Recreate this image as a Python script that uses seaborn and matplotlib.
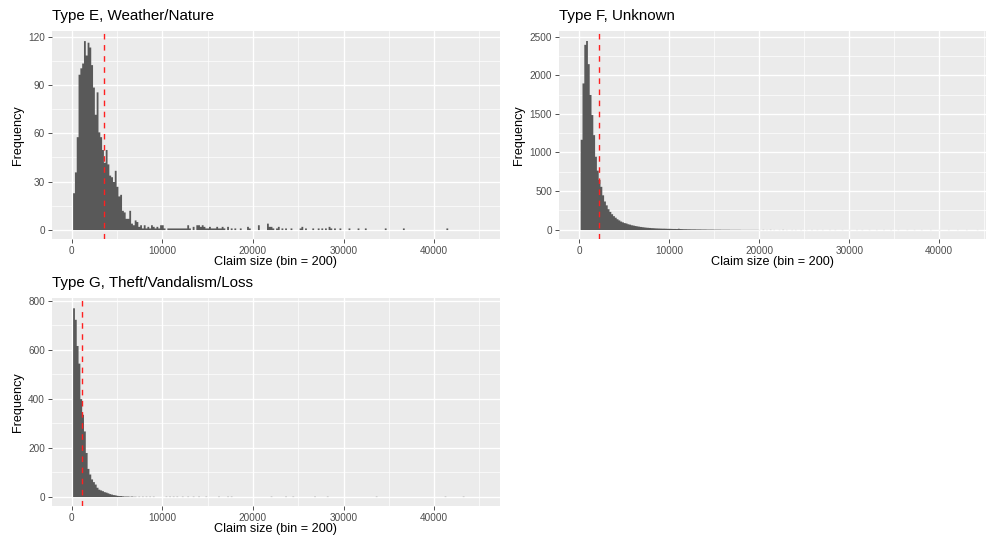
import numpy as np
import pandas as pd
import matplotlib
matplotlib.use("Agg")
import matplotlib.pyplot as plt
import seaborn as sns

# bin width used in all three histograms
BIN = 200

# Type E, Weather/Nature: counts for consecutive bins centred at 200, 400, ...
E_HEAD = [23, 36, 58, 97, 101, 104, 118, 109, 117, 114, 103, 89, 72, 86, 61,
          58, 50, 42, 50, 41, 34, 33, 30, 37, 27, 21, 22, 12, 11, 7, 7, 12, 4,
          3, 6, 5, 2, 3, 1, 3, 1, 2, 1, 3, 2, 1, 2, 1, 3]
# sparse tail of Type E (bin centre, count)
E_TAIL_X = [10000, 10200, 10600, 10800, 11000, 11200, 11400, 11600, 11800,
            12000, 12200, 12400, 12600, 12800, 13000, 13400, 13800, 14000,
            14200, 14400, 14600, 14800, 15000, 15200, 15400, 15600, 15800,
            16000, 16200, 16400, 16600, 16800, 17200, 17600, 18000, 18600,
            19400, 19600, 20600, 21600, 21800, 22000, 22200, 22600, 22800,
            23200, 23600, 24200, 25200, 25400, 25800, 26600, 27200, 27600,
            28000, 28400, 28600, 29000, 29600, 30600, 31600, 32400, 34600,
            36600, 41400]
E_TAIL_N = [3, 1, 1, 1, 1, 1, 1, 1, 1, 1, 1, 1, 1, 3, 1, 2, 3, 3, 2, 3, 2, 1,
            1, 2, 1, 1, 1, 2, 1, 1, 2, 1, 2, 1, 1, 1, 2, 1, 3, 4, 2, 2, 1, 1,
            2, 1, 1, 1, 1, 2, 1, 1, 1, 1, 1, 2, 1, 1, 1, 1, 1, 1, 1, 1, 1]
E_MEAN = 3532

# Type F, Unknown
F_HEAD = [1170, 1900, 2400, 2450, 2150, 1750, 1490, 1230, 950, 770, 650, 560,
          450, 370, 320, 270, 235, 205, 180, 160, 140, 125, 110, 100, 90, 85,
          75, 70, 62, 58, 52, 48, 44, 40, 37, 34, 31, 29, 27, 25, 24, 22, 21,
          20, 19, 18, 18, 17, 16, 16, 15, 14, 14, 13, 17, 13, 12, 11, 11, 10,
          10, 9, 9, 9, 8, 8, 8, 7, 7, 7, 6, 6, 6, 6, 5, 5, 5, 5, 4, 4, 4, 4,
          4, 3, 3, 3, 3, 3, 3, 2, 2, 2, 2, 2, 2, 2, 2, 2, 2, 1]
F_TAIL_X = [20400, 20800, 21200, 21600, 22200, 22600, 23000, 23600, 24000,
            24600, 25200, 25800, 26400, 27000, 27800, 28400, 29200, 30000,
            30800, 31400, 32200, 33000, 33800, 34600, 35400, 36400, 37200,
            38000, 39000, 40000, 41000, 42000, 43000, 44200]
F_TAIL_N = [2, 1, 2, 1, 1, 2, 1, 1, 1, 1, 1, 1, 1, 1, 1, 1, 1, 1, 1, 1, 1, 1,
            1, 1, 1, 1, 1, 1, 1, 1, 1, 1, 1, 1]
F_MEAN = 2222

# Type G, Theft/Vandalism/Loss
G_HEAD = [771, 724, 617, 545, 400, 336, 268, 180, 115, 92, 72, 61, 51, 38, 30,
          27, 24, 20, 18, 15, 12, 10, 8, 7, 5, 4, 4, 3, 2, 2, 2, 1, 2, 1, 1]
G_TAIL_X = [7400, 7800, 8200, 8600, 9000, 10400, 10800, 11200, 11600, 12200,
            12800, 13400, 14000, 14800, 16200, 17200, 17600, 22000, 23600,
            24400, 26800, 28200, 33600, 41200, 43200]
G_TAIL_N = [1] * len(G_TAIL_X)
G_MEAN = 1137

TITLES = ["Type E, Weather/Nature", "Type F, Unknown",
          "Type G, Theft/Vandalism/Loss"]
X_LABEL = "Claim size (bin = 200)"
Y_LABEL = "Frequency"
E_YTICKS = [0, 30, 60, 90, 120]
F_YTICKS = [0, 500, 1000, 1500, 2000, 2500]
G_YTICKS = [0, 200, 400, 600, 800]
X_TICKS = [0, 10000, 20000, 30000, 40000]


def to_frame(head, tail_x, tail_n):
    centres = [BIN * (i + 1) for i in range(len(head))] + list(tail_x)
    return pd.DataFrame({"claim": centres, "freq": list(head) + list(tail_n)})


W, H = 992, 539
sns.set_style("darkgrid", {"axes.facecolor": "#EBEBEB",
                           "grid.color": "white"})
plt.rcParams["font.family"] = ["Liberation Sans", "DejaVu Sans"]

fig = plt.figure(figsize=(W / 100, H / 100), dpi=100)
fig.patch.set_facecolor("white")


def panel(px_left, px_top, px_right, px_bottom):
    return fig.add_axes([px_left / W, 1 - px_bottom / H,
                         (px_right - px_left) / W, (px_bottom - px_top) / H])


panels = [
    (panel(52, 31, 500, 239), to_frame(E_HEAD, E_TAIL_X, E_TAIL_N), E_MEAN,
     E_YTICKS, (-2175, 47270), 124.0),
    (panel(559, 31, 986, 239), to_frame(F_HEAD, F_TAIL_X, F_TAIL_N), F_MEAN,
     F_YTICKS, (-2256, 45190), 2573.0),
    (panel(52, 298, 500, 506), to_frame(G_HEAD, G_TAIL_X, G_TAIL_N), G_MEAN,
     G_YTICKS, (-2175, 47270), 811.0),
]

for (ax, df, mean, yticks, xlim, ytop), title in zip(panels, TITLES):
    # step element: one filled outline, so no seams between adjacent bins;
    # no snapping so that 1-count bins stay faint, as in the original
    sns.histplot(data=df, x="claim", weights="freq", binwidth=BIN,
                 binrange=(BIN / 2, 45000 + BIN / 2), ax=ax,
                 element="step", fill=True, color="#595959", alpha=1,
                 linewidth=0, snap=False)
    ax.axvline(mean, color="#FF2020", linestyle=(0, (4, 4)), linewidth=1.0)

    ax.set_xlim(*xlim)
    ax.set_ylim(-ytop * 0.05 / 1.05, ytop)
    ax.set_xticks(X_TICKS)
    ax.set_xticks([5000, 15000, 25000, 35000, 45000], minor=True)
    ax.set_yticks(yticks)
    step = yticks[1] - yticks[0]
    ax.set_yticks([v + step / 2 for v in yticks[:-1]], minor=True)
    ax.grid(which="major", color="white", linewidth=1.0)
    ax.grid(which="minor", color="white", linewidth=0.5)
    ax.set_axisbelow(True)
    for s in ax.spines.values():
        s.set_visible(False)

    ax.tick_params(which="major", length=3, width=0.6, color="#333333",
                   labelcolor="#4D4D4D", labelsize=7.2, pad=2,
                   bottom=True, left=True)
    ax.tick_params(which="minor", length=0)

    ax.set_xlabel(X_LABEL, fontsize=9.1, color="black", labelpad=0)
    ax.set_ylabel(Y_LABEL, fontsize=9.1, color="black", labelpad=3)
    ax.set_title(title, loc="left", fontsize=10.9, color="black", pad=8)

fig.savefig("out.png", dpi=100)
